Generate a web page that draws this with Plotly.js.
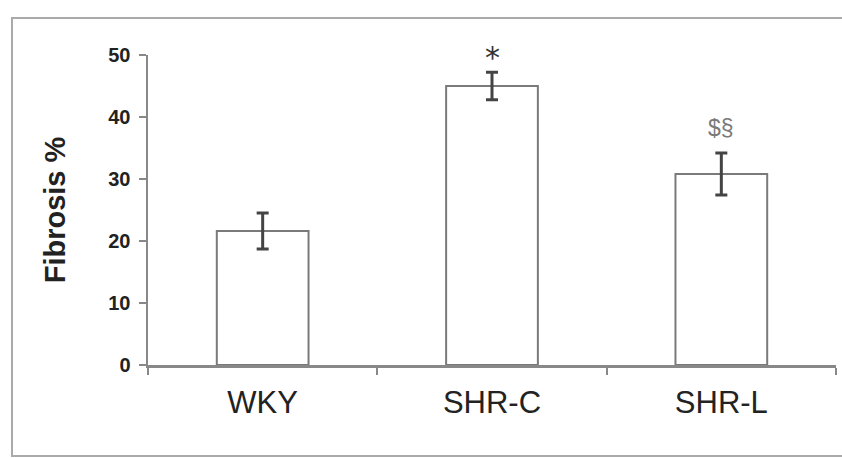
<!DOCTYPE html>
<html>
<head>
<meta charset="utf-8">
<script src="https://cdn.plot.ly/plotly-3.0.1.min.js"></script>
<style>html,body{margin:0;padding:0;background:#fff;}#chart{width:842px;height:458px;}</style>
</head>
<body>
<div id="chart"></div>
<script>
const categories = ["WKY", "SHR-C", "SHR-L"];
const fibrosis = [21.6, 45.0, 30.8];
const errors = [2.9, 2.2, 3.4];
const markers = ["", "*", "$§"];
const markerY = [0, 49.6, 38.2];
const yTicks = [0, 10, 20, 30, 40, 50];
const yMax = 50;

const trace = {
  type: "bar",
  x: categories,
  y: fibrosis,
  width: 0.4,
  marker: {color: "#ffffff", line: {color: "#7a7a7a", width: 2}},
  error_y: {type: "data", array: errors, visible: true, color: "#444444", thickness: 3, width: 6}
};

const annotations = [];
categories.forEach((c, i) => {
  if (markers[i]) {
    annotations.push({
      x: c, y: markerY[i] / yMax, xref: "x", yref: "paper", text: markers[i], showarrow: false,
      yanchor: "middle",
      font: i === 1 ? {family: "DejaVu Sans", size: 30, color: "#333333"}
                    : {family: "Liberation Sans, Arial", size: 23, color: "#7a7a7a"}
    });
  }
});

const layout = {
  width: 842, height: 458,
  margin: {l: 148, r: 6, t: 55, b: 93},
  paper_bgcolor: "#ffffff", plot_bgcolor: "#ffffff",
  showlegend: false,
  bargap: 0.6,
  xaxis: {
    type: "category",
    tickson: "boundaries", ticks: "outside", ticklen: 7, tickwidth: 2, tickcolor: "#888888",
    showline: true, linecolor: "#888888", linewidth: 2.5,
    showgrid: false, zeroline: false,
    tickfont: {family: "Liberation Sans, Arial", size: 31, color: "#222222"},
    ticklabelstandoff: 8
  },
  yaxis: {
    range: [0, yMax], tickvals: yTicks, ticktext: yTicks.map(String),
    ticks: "outside", ticklen: 7, tickwidth: 2, tickcolor: "#888888",
    showline: true, linecolor: "#888888", linewidth: 2.5,
    showgrid: false, zeroline: false,
    tickfont: {family: "Liberation Sans, Arial", size: 20, color: "#222222", weight: "bold"},
    ticklabelstandoff: 4,
    title: {text: "Fibrosis %", font: {family: "Liberation Sans, Arial", size: 29, color: "#222222", weight: "bold"}, standoff: 34}
  },
  annotations: annotations,
  shapes: [{
    type: "rect", xref: "paper", yref: "paper",
    x0: (12 - 148) / 688, x1: (846 - 148) / 688,
    y0: (365 - 456) / 310, y1: (365 - 18) / 310,
    line: {color: "#aaaaaa", width: 2}, fillcolor: "rgba(0,0,0,0)", layer: "below"
  }]
};

Plotly.newPlot("chart", [trace], layout, {staticPlot: true, displayModeBar: false});
</script>
</body>
</html>
